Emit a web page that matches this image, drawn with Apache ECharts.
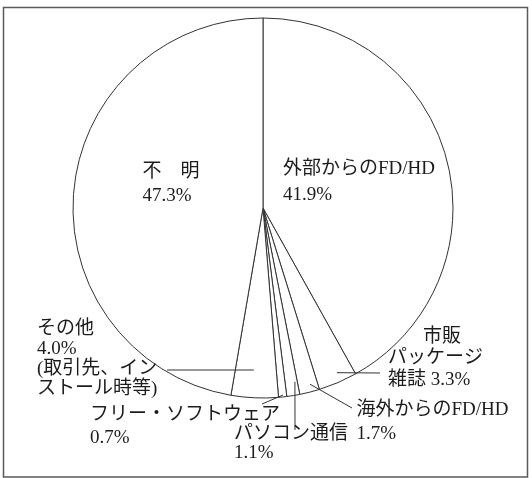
<!DOCTYPE html>
<html>
<head>
<meta charset="utf-8">
<script src="https://cdn.jsdelivr.net/npm/echarts@6/dist/echarts.min.js"></script>
<style>
  html, body { margin: 0; padding: 0; background: #fff; }
  #chart { width: 532px; height: 478px; }
</style>
</head>
<body>
<div id="chart"></div>
<script>
// Source shares (%), clockwise from 12 o'clock
const categories = ['外部からのFD/HD', '市販パッケージ雑誌', '海外からのFD/HD', 'パソコン通信', 'フリー・ソフトウェア', 'その他', '不明'];
const shares = [41.9, 3.3, 1.7, 1.1, 0.7, 4.0, 47.3];

// Label text: lines before the percentage, lines after it
const labelHead = [['外部からのFD/HD'], ['市販', 'パッケージ', '雑誌'], ['海外からのFD/HD'], ['パソコン通信'], ['フリー・ソフトウェア'], ['その他'], ['不　明']];
const labelTail = [[], [], [], [], [], ['(取引先、イン', 'ストール時等)'], []];
const valueOnLastHeadLine = [false, true, false, false, false, false, false];

// Pie geometry
const CX = 263, CY = 208, R = 190;
const FONT = "'Liberation Serif', 'Noto Sans CJK JP', serif";
const INK = '#1c1c1c';

// Label boxes (left/top, line height) and leader lines:
// a leader starts inside its slice at fraction t of the sweep and ratio of the radius
const placement = [
  { x: 283, y: 156.5, lh: 26 },
  { x: 388, y: 326, lh: 21.5, indent: 35, leader: { t: 0.42, ratio: 0.95, to: [380, 373] } },
  { x: 356.5, y: 398.5, lh: 23.5, leader: { t: 0.38, ratio: 0.96, to: [352, 408] } },
  { x: 234, y: 424, lh: 19.5, leader: { t: 0.19, ratio: 0.93, to: [295, 430] } },
  { x: 90, y: 404, lh: 22.5, leader: { t: 0.44, ratio: 0.99, to: [262, 404] } },
  { x: 37, y: 319, lh: 20, leader: { t: 0.55, ratio: 0.854, to: [167, 370] } },
  { x: 142.5, y: 160, lh: 24 }
];

const total = shares.reduce((a, b) => a + b, 0);
const startDeg = [];
let acc = 0;
shares.forEach(v => { startDeg.push(acc / total * 360); acc += v; });

function polar(deg, rr) {
  const a = deg * Math.PI / 180;
  return [CX + rr * Math.sin(a), CY - rr * Math.cos(a)];
}

function labelText(i) {
  const pct = shares[i].toFixed(1) + '%';
  const lines = labelHead[i].slice();
  if (valueOnLastHeadLine[i]) lines[lines.length - 1] += ' ' + pct;
  else lines.push(pct);
  lines.push(...labelTail[i]);
  return lines.map((s, k) => (k === 0 && placement[i].indent ? '{ind|' + s + '}' : '{t|' + s + '}')).join('\n');
}

const data = categories.map((name, i) => {
  const p = placement[i];
  const base = { fontSize: 19, fontFamily: FONT, color: INK, lineHeight: p.lh };
  return {
    name: name,
    value: shares[i],
    label: {
      formatter: labelText(i),
      rich: {
        t: base,
        ind: Object.assign({}, base, { padding: [0, 0, 0, p.indent || 0] })
      }
    }
  };
});

// Leader lines from inside each small slice to its label
const leaders = placement.map((p, i) => {
  if (!p.leader) return null;
  const sweep = shares[i] / total * 360;
  const from = polar(startDeg[i] + p.leader.t * sweep, p.leader.ratio * R);
  return {
    type: 'line',
    z: 10,
    silent: true,
    shape: { x1: from[0], y1: from[1], x2: p.leader.to[0], y2: p.leader.to[1] },
    style: { stroke: '#333', lineWidth: 1 }
  };
}).filter(Boolean);

const chart = echarts.init(document.getElementById('chart'), null, { renderer: 'canvas' });
chart.setOption({
  backgroundColor: '#fff',
  animation: false,
  graphic: [{
    type: 'rect',
    z: -1,
    silent: true,
    shape: { x: 3.5, y: 7.5, width: 524, height: 469.5 },
    style: { fill: 'none', stroke: '#5a5a5a', lineWidth: 1.5 }
  }].concat(leaders),
  series: [{
    type: 'pie',
    center: [CX, CY],
    radius: R,
    startAngle: 90,
    clockwise: true,
    avoidLabelOverlap: false,
    silent: true,
    emphasis: { disabled: true },
    itemStyle: { color: '#fff', borderColor: '#333', borderWidth: 1 },
    label: { show: true, position: 'outside', fontSize: 19, fontFamily: FONT, color: INK },
    labelLine: { show: false },
    labelLayout: function (params) {
      const p = placement[params.dataIndex];
      return { x: p.x, y: p.y, align: 'left', verticalAlign: 'top' };
    },
    data: data
  }]
});
</script>
</body>
</html>
